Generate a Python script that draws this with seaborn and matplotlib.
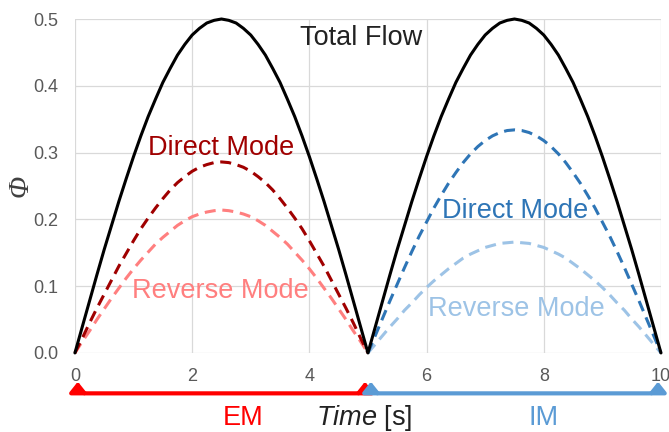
import numpy as np
import pandas as pd
import matplotlib
matplotlib.use("Agg")
import matplotlib.pyplot as plt
import seaborn as sns
from matplotlib.path import Path
from matplotlib.patches import FancyArrowPatch

# ---- data ----
time_all = np.linspace(0, 10, 81)
time_em = np.linspace(0, 5, 41)
time_im = np.linspace(5, 10, 41)

total_flow = [0, .039, .078, .117, .155, .191, .227, .261, .294, .325, .354,
              .380, .405, .426, .446, .462, .476, .486, .494, .498, .500,
              .498, .494, .486, .476, .462, .446, .426, .405, .380, .354,
              .325, .294, .261, .227, .191, .155, .117, .078, .039, 0,
              .039, .078, .117, .155, .191, .227, .261, .294, .325, .354,
              .380, .405, .426, .446, .462, .476, .486, .494, .498, .500,
              .498, .494, .486, .476, .462, .446, .426, .405, .380, .354,
              .325, .294, .261, .227, .191, .155, .117, .078, .039, 0]
em_direct = [0, .022, .045, .067, .088, .109, .130, .149, .168, .186, .202,
             .217, .231, .244, .255, .264, .272, .278, .282, .285, .286,
             .285, .282, .278, .272, .264, .255, .244, .231, .217, .202,
             .186, .168, .149, .130, .109, .088, .067, .045, .022, 0]
em_reverse = [0, .017, .033, .050, .066, .082, .097, .112, .126, .139, .151,
              .163, .173, .182, .191, .198, .204, .208, .211, .213, .214,
              .213, .211, .208, .204, .198, .191, .182, .173, .163, .151,
              .139, .126, .112, .097, .082, .066, .050, .033, .017, 0]
im_direct = [0, .026, .052, .078, .103, .128, .152, .175, .196, .217, .236,
             .254, .270, .285, .298, .309, .318, .325, .330, .333, .334,
             .333, .330, .325, .318, .309, .298, .285, .270, .254, .236,
             .217, .196, .175, .152, .128, .103, .078, .052, .026, 0]
im_reverse = [0, .013, .026, .039, .051, .064, .075, .087, .098, .108, .117,
              .126, .134, .142, .148, .153, .158, .161, .164, .165, .166,
              .165, .164, .161, .158, .153, .148, .142, .134, .126, .117,
              .108, .098, .087, .075, .064, .051, .039, .026, .013, 0]

x_ticks = [0, 2, 4, 6, 8, 10]
y_ticks = [0.0, 0.1, 0.2, 0.3, 0.4, 0.5]

sns.set_theme(style="white")
plt.rcParams['font.family'] = ['Liberation Sans', 'DejaVu Sans']
plt.rcParams['mathtext.fontset'] = 'custom'
plt.rcParams['mathtext.it'] = 'Liberation Sans:italic'
plt.rcParams['mathtext.rm'] = 'Liberation Sans'

fig = plt.figure(figsize=(6.69, 4.32), dpi=100)
ax = fig.add_axes([0.112, 0.183, 0.876, 0.773])

C_DRED = "#A00000"
C_PINK = "#FF7F7F"
C_BLUE = "#2E75B6"
C_LBLUE = "#9DC3E6"
dash = (0, (3.6, 2.2))

sns.lineplot(x=time_em, y=em_reverse, color=C_PINK, lw=2.2, linestyle=dash, ax=ax, clip_on=False)
sns.lineplot(x=time_em, y=em_direct, color=C_DRED, lw=2.2, linestyle=dash, ax=ax, clip_on=False)
sns.lineplot(x=time_im, y=im_reverse, color=C_LBLUE, lw=2.2, linestyle=dash, ax=ax, clip_on=False)
sns.lineplot(x=time_im, y=im_direct, color=C_BLUE, lw=2.2, linestyle=dash, ax=ax, clip_on=False)
sns.lineplot(x=time_all, y=total_flow, color="black", lw=2.2, ax=ax, clip_on=False)

ax.set_xlim(0, 10)
ax.set_ylim(0, 0.5)
ax.set_xticks(x_ticks)
ax.set_yticks(y_ticks)
ax.set_xticklabels([str(v) for v in x_ticks])
ax.set_yticklabels([f"{v:.1f}" for v in y_ticks])
ax.tick_params(axis='both', length=0, labelsize=13, labelcolor="#595959")
ax.tick_params(axis='x', pad=11)
ax.tick_params(axis='y', pad=12)
ax.grid(True, color="#D9D9D9", lw=0.9)
ax.set_axisbelow(True)
for s in ax.spines.values():
    s.set_visible(False)
ax.set_ylabel("")
ax.set_xlabel("")

# y-axis title (rotated Phi)
ax.text(-0.092, 0.5, "Φ", transform=ax.transAxes, rotation=90, ha='center', va='center',
        fontsize=21, style='italic', family=['Liberation Serif', 'DejaVu Serif'],
        color="#404040", clip_on=False)

# annotations
fs = 19.5
ax.text(4.88, 0.472, "Total Flow", ha='center', va='center', fontsize=fs, color="#222222")
ax.text(2.49, 0.307, "Direct Mode", ha='center', va='center', fontsize=fs, color=C_DRED)
ax.text(2.49, 0.093, "Reverse Mode", ha='center', va='center', fontsize=fs, color=C_PINK)
ax.text(7.51, 0.213, "Direct Mode", ha='center', va='center', fontsize=fs, color=C_BLUE)
ax.text(7.54, 0.066, "Reverse Mode", ha='center', va='center', fontsize=fs, color=C_LBLUE)

ax.text(2.87, -0.097, "EM", ha='center', va='center', fontsize=fs, color="#FF0000", clip_on=False)
ax.text(8.0, -0.097, "IM", ha='center', va='center', fontsize=fs, color="#5B9BD5", clip_on=False)
ax.text(4.93, -0.097, r"$\mathit{Time}$ [s]", ha='center', va='center', fontsize=fs,
        color="#222222", clip_on=False)


def bracket(x0, x1, color):
    yb, yt, r = -0.0605, -0.043, 0.15
    verts = [(x0, yt), (x0, yb), (x0 + r, yb), (x1 - r, yb), (x1, yb), (x1, yt)]
    codes = [Path.MOVETO, Path.CURVE3, Path.CURVE3, Path.LINETO, Path.CURVE3, Path.CURVE3]
    p = FancyArrowPatch(path=Path(verts, codes),
                        arrowstyle='<|-|>,head_length=0.5,head_width=0.4',
                        mutation_scale=12, color=color, lw=3.0, clip_on=False,
                        capstyle='round', joinstyle='round')
    ax.add_patch(p)


bracket(0.05, 4.95, "#FF0000")
bracket(5.05, 9.95, "#5B9BD5")

fig.savefig("out.png", dpi=100)
